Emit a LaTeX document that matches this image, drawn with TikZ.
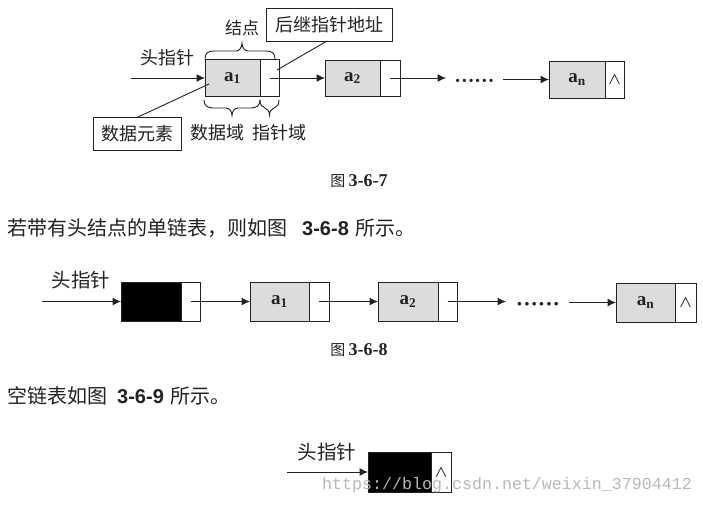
\documentclass[tikz,border=0pt]{standalone}
\usepackage{fontspec}
\setmainfont{Liberation Serif}
\newfontfamily\cjk{Noto Sans CJK SC}
\newfontfamily\bodylatin{Liberation Sans}
\newfontfamily\markfont{Liberation Mono}
\usetikzlibrary{arrows.meta}
\definecolor{cellgray}{HTML}{DCDCDC}
\definecolor{ink}{HTML}{222222}
\tikzset{
  cell/.style={draw=ink,line width=1pt,inner sep=0pt,outer sep=0pt,anchor=north west},
  datacell/.style={cell,fill=cellgray,text=ink,font=\bfseries\fontsize{19}{19}\selectfont},
  blackcell/.style={cell,fill=black},
  ptrcell/.style={cell,fill=white},
  nilcell/.style={cell,fill=white,text=ink,font=\cjk\fontsize{13.5}{13.5}\selectfont},
  link/.style={draw=ink,line width=1pt,-{Latex[length=8.5pt,width=8pt]}},
  leader/.style={draw=ink,line width=0.9pt},
  callout/.style={draw=ink,line width=1pt,inner sep=0pt,minimum height=33pt,font=\cjk\fontsize{18}{18}\selectfont,text=ink},
  lab/.style={inner sep=0pt,font=\cjk\fontsize{18}{18}\selectfont,text=ink},
  biglab/.style={inner sep=0pt,font=\cjk\fontsize{19.5}{19.5}\selectfont,text=ink},
  body/.style={inner sep=0pt,anchor=west,font=\cjk\fontsize{20}{20}\selectfont,text=ink},
  caption/.style={inner sep=0pt,font=\cjk\fontsize{15}{15}\selectfont,text=ink},
  dotsnode/.style={inner sep=0pt,text=ink},
  bracedraw/.style={draw=ink,line width=0.9pt,line cap=round},
}
\newcommand{\lat}[2]{{\rmfamily\bfseries\fontsize{#1}{#1}\selectfont #2}}
\newcommand{\bodynum}[1]{{\bodylatin\bfseries #1}}
\begin{document}
\begin{tikzpicture}[x=1pt,y=-1pt]
\useasboundingbox[fill=white] (0,0) rectangle (703,504);

% ---------- figure 3-6-7
\node[datacell,minimum width=55pt,minimum height=37pt] (a1d) at (205,59.5) {a\textsubscript{1}};
\node[ptrcell,minimum width=19pt,minimum height=37pt] (a1p) at (260,59.5) {};
\node[datacell,minimum width=55pt,minimum height=36pt] (a2d) at (325,60) {a\textsubscript{2}};
\node[ptrcell,minimum width=20pt,minimum height=36pt] (a2p) at (380,60) {};
\node[dotsnode,font=\bfseries\fontsize{20}{20}\selectfont] (dots1) at (474.5,83) {······};
\node[datacell,minimum width=56pt,minimum height=37pt] (and) at (549,61) {a\textsubscript{n}};
\node[nilcell,minimum width=19pt,minimum height=37pt] (anp) at (605,61) {∧};
\coordinate (head1) at (131,78);
\coordinate (gap1a) at (446,78);
\coordinate (gap1b) at (503,79.5);
\node[lab] (headlab1) at (167,58) {头指针};
\node[lab,font=\cjk\fontsize{17}{17}\selectfont] (nodelab) at (242,28) {结点};
\node[callout,minimum width=126pt] (succ) at (329,25) {后继指针地址};
\node[callout,minimum width=88pt] (elem) at (137,134) {数据元素};
\node[lab] (dom1) at (217,133) {数据域};
\node[lab] (dom2) at (279,133) {指针域};
\coordinate (succend) at (277,70);
\coordinate (elemend) at (209,84);
\coordinate (succstart) at (327,41);
\coordinate (elemstart) at (138,117);
\draw[link] (head1) -- (a1d.west);
\draw[link] (a1p.center) -- (a2d.west);
\draw[link] (a2p.center) -- (gap1a);
\draw[link] (gap1b) -- (and.west);
\draw[leader] (succstart) -- (succend);
\draw[leader] (elemstart) -- (elemend);
% top brace
\draw[bracedraw] (205,59) .. controls (205,53) and (208,51) .. (214,51) -- (236,51)
  .. controls (239,51) and (242,48) .. (242,43) .. controls (242,48) and (245,51) .. (248,51)
  -- (266,51) .. controls (272,51) and (275,53) .. (275,59);
% bottom braces
\draw[bracedraw] (204,100) .. controls (204,105) and (207,108) .. (213,108) -- (226,108)
  .. controls (229,108) and (232,111) .. (232,115.5) .. controls (232,111) and (235,108) .. (238,108)
  -- (251,108) .. controls (257,108) and (260,105) .. (260,100);
\draw[bracedraw] (260,100) .. controls (260,105) and (262,107) .. (265,108)
  .. controls (267,109) and (269.5,111) .. (269.5,115) .. controls (269.5,111) and (272,109) .. (274,108)
  .. controls (277,107) and (279,105) .. (279,100);
\node[caption] (cap7) at (359,181) {图 \lat{18}{3-6-7}};

\node[body] (line1) at (7,228) {若带有头结点的单链表，则如图\hspace{15pt}\bodynum{3-6-8}\hspace{7pt}所示。};

% ---------- figure 3-6-8
\node[blackcell,minimum width=60pt,minimum height=39pt] (h2d) at (121,282) {};
\node[ptrcell,minimum width=19pt,minimum height=39pt] (h2p) at (181,282) {};
\node[datacell,minimum width=59pt,minimum height=39pt] (b1d) at (250,282) {a\textsubscript{1}};
\node[ptrcell,minimum width=20pt,minimum height=39pt] (b1p) at (309,282) {};
\node[datacell,minimum width=60pt,minimum height=39pt] (b2d) at (378,282) {a\textsubscript{2}};
\node[ptrcell,minimum width=19pt,minimum height=39pt] (b2p) at (438,282) {};
\node[dotsnode,font=\bfseries\fontsize{22}{22}\selectfont] (dots2) at (538,306.5) {······};
\node[datacell,minimum width=59pt,minimum height=39pt] (bnd) at (616,283) {a\textsubscript{n}};
\node[nilcell,minimum width=21pt,minimum height=39pt] (bnp) at (675,283) {∧};
\coordinate (head2) at (42,301.5);
\coordinate (gap2a) at (506,301.5);
\coordinate (gap2b) at (569,302.5);
\node[biglab] (headlab2) at (81,280) {头指针};
\draw[link] (head2) -- (h2d.west);
\draw[link] (h2p.center) -- (b1d.west);
\draw[link] (b1p.center) -- (b2d.west);
\draw[link] (b2p.center) -- (gap2a);
\draw[link] (gap2b) -- (bnd.west);
\node[caption] (cap8) at (359,350) {图 \lat{18}{3-6-8}};

\node[body] (line2) at (7,396) {空链表如图\hspace{10pt}\bodynum{3-6-9}\hspace{7pt}所示。};

% ---------- figure 3-6-9
\node[blackcell,minimum width=63pt,minimum height=40pt] (h3d) at (368,452) {};
\node[nilcell,minimum width=20pt,minimum height=40pt] (h3p) at (431,452) {∧};
\coordinate (head3) at (287,472);
\node[biglab] (headlab3) at (327,452) {头指针};
\draw[link] (head3) -- (h3d.west);

\node[inner sep=0pt,anchor=west,text=black!28,font=\markfont\fontsize{16.65}{16.65}\selectfont] (wm) at (322,485) {https://blog.csdn.net/weixin\_37904412};
\end{tikzpicture}
\end{document}
